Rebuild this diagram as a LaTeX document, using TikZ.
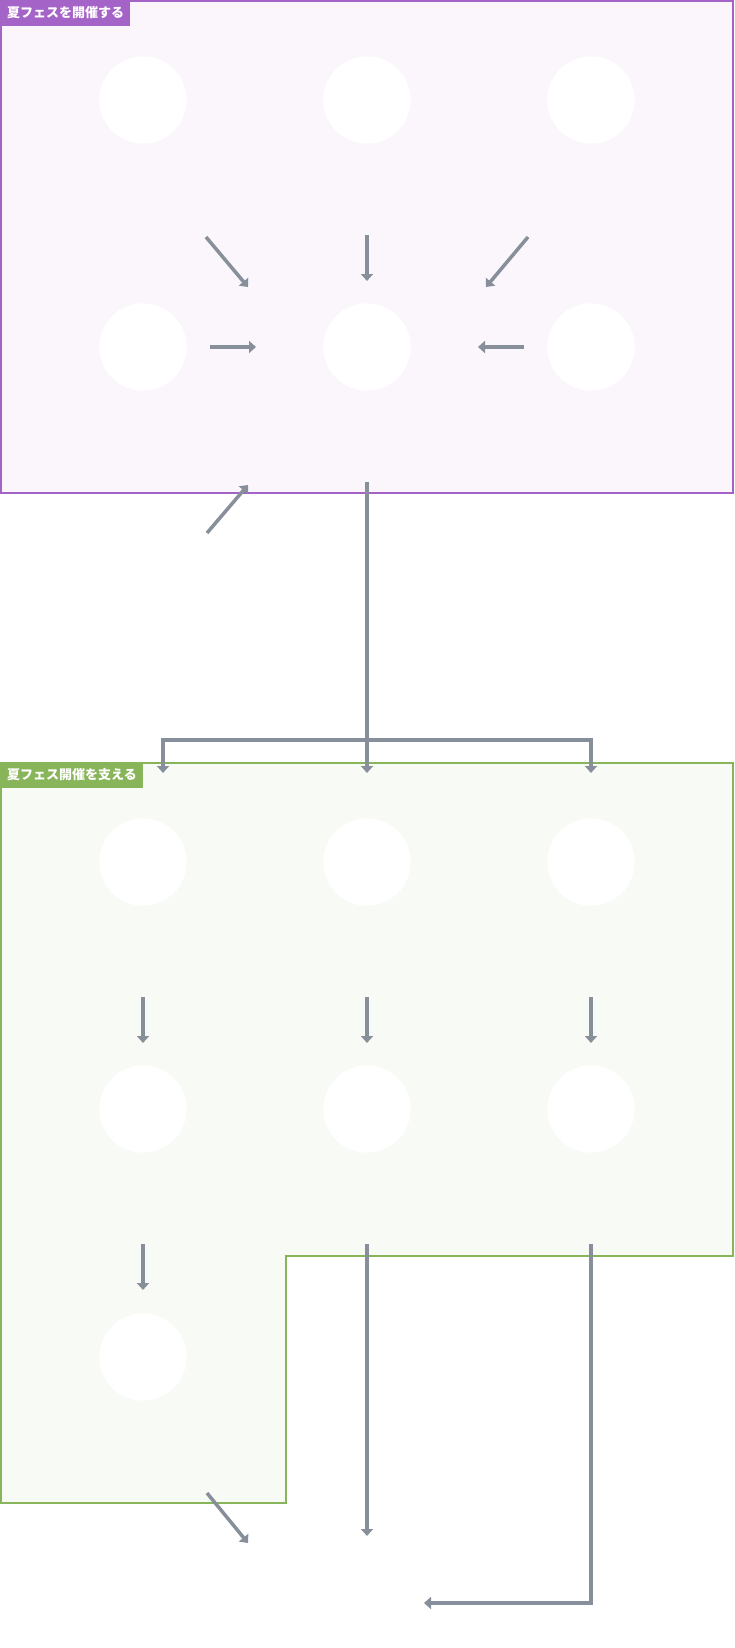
\documentclass[tikz,border=0pt]{standalone}
\usepackage{fontspec}
\newfontfamily\jp{Noto Sans CJK JP}
\usetikzlibrary{arrows.meta}
\definecolor{arrowgray}{HTML}{87909A}
\definecolor{purpleline}{HTML}{A463C6}
\definecolor{purplefill}{HTML}{FBF5FC}
\definecolor{greenline}{HTML}{88B55A}
\definecolor{greenfill}{HTML}{F8FAF5}
\tikzset{
  blob/.style={circle,fill=white,draw=none,minimum size=87.4pt,inner sep=0pt},
  conn/.style={draw=arrowgray,line width=3.5pt,-{Triangle[width=12pt,length=7pt]}},
  tag/.style={anchor=west,text=white,inner sep=0pt,font=\jp\bfseries\fontsize{13pt}{13pt}\selectfont}
}
\begin{document}
\begin{tikzpicture}[x=1pt,y=-1pt]
\useasboundingbox (0,0) rectangle (734,1648);
\fill[white] (0,0) rectangle (734,1648);
% purple group
\draw[draw=purpleline,fill=purplefill,line width=1.5pt] (1,1) rectangle (733,493);
\fill[purpleline] (0,0) rectangle (130,26);
\node[tag] (t1) at (7,13) {夏フェスを開催する};
% green group
\draw[draw=greenline,fill=greenfill,line width=1.5pt] (1,763) -- (733,763) -- (733,1256) -- (286,1256) -- (286,1503) -- (1,1503) -- cycle;
\fill[greenline] (0,762) rectangle (143,788);
\node[tag] (t2) at (7,775) {夏フェス開催を支える};
% circles
\foreach \i/\x in {1/143,2/367,3/591}{
  \node[blob] (p1\i) at (\x,100) {};
  \node[blob] (p2\i) at (\x,347) {};
  \node[blob] (g1\i) at (\x,862) {};
  \node[blob] (g2\i) at (\x,1109) {};
}
\node[blob] (g31) at (143,1357) {};
% coordinates
\coordinate (a1s) at (206,237); \coordinate (a1e) at (248,287);
\coordinate (a2s) at (367,235); \coordinate (a2e) at (367,281);
\coordinate (a3s) at (528,237); \coordinate (a3e) at (486,287);
\coordinate (a4s) at (210,347); \coordinate (a4e) at (256,347);
\coordinate (a5s) at (524,347); \coordinate (a5e) at (478,347);
\coordinate (a6s) at (207,533); \coordinate (a6e) at (248,485);
\coordinate (ms) at (367,482); \coordinate (mj) at (367,740);
\coordinate (me) at (367,773);
\coordinate (bl) at (163,773); \coordinate (br) at (591,773);
\draw[conn] (a1s) -- (a1e);
\draw[conn] (a2s) -- (a2e);
\draw[conn] (a3s) -- (a3e);
\draw[conn] (a4s) -- (a4e);
\draw[conn] (a5s) -- (a5e);
\draw[conn] (a6s) -- (a6e);
\draw[conn] (ms) -- (me);
\draw[conn] (mj) -| (bl);
\draw[conn] (mj) -| (br);
% green arrows
\foreach \x in {143,367,591}{
  \draw[conn] (\x,997) -- (\x,1043);
}
\coordinate (d1s) at (143,1244); \coordinate (d1e) at (143,1290);
\coordinate (d2s) at (367,1244); \coordinate (d2e) at (367,1536);
\coordinate (d3s) at (591,1244); \coordinate (d3e) at (424,1603);
\coordinate (d4s) at (207,1493); \coordinate (d4e) at (248,1543);
\draw[conn] (d1s) -- (d1e);
\draw[conn] (d2s) -- (d2e);
\draw[conn] (d3s) |- (d3e);
\draw[conn] (d4s) -- (d4e);
\end{tikzpicture}
\end{document}
